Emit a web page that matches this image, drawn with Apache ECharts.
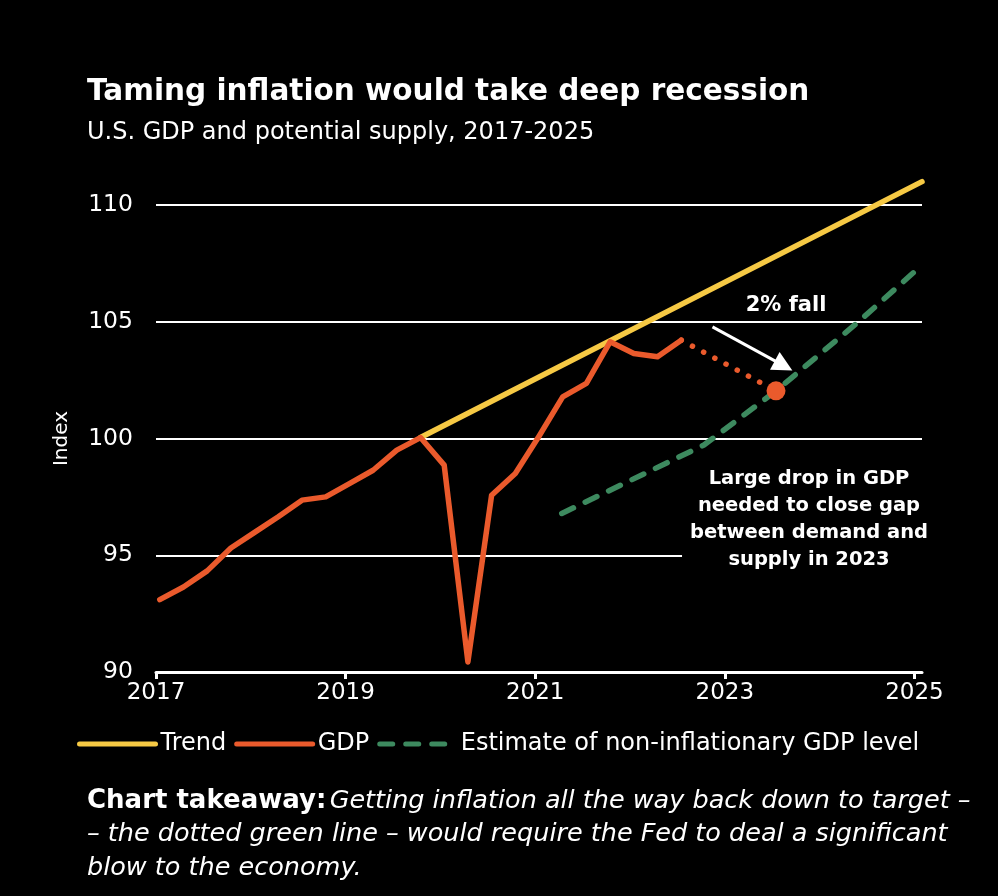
<!DOCTYPE html>
<html>
<head>
<meta charset="utf-8">
<script src="https://cdn.jsdelivr.net/npm/echarts@6/dist/echarts.min.js"></script>
<style>
  html, body { margin: 0; padding: 0; background: #000; }
  #chart { width: 998px; height: 896px; }
</style>
</head>
<body>
<div id="chart"></div>
<script>
// quarterly GDP index (decimal years)
const gdpYears = [2017.04, 2017.29, 2017.54, 2017.79, 2018.04, 2018.29, 2018.54, 2018.79,
  2019.04, 2019.29, 2019.54, 2019.79, 2020.04, 2020.29, 2020.54, 2020.79,
  2021.04, 2021.29, 2021.54, 2021.79, 2022.04, 2022.29, 2022.54];
const gdpValues = [93.1, 93.64, 94.33, 95.31, 95.98, 96.65, 97.36, 97.5,
  98.07, 98.64, 99.5, 100.04, 98.86, 90.43, 97.57, 98.5,
  100.1, 101.78, 102.36, 104.14, 103.64, 103.5, 104.21];

const trendYears = [2019.79, 2025.08];
const trendValues = [100.04, 111.0];

const estimateYears = [2021.28, 2022.78, 2023.54, 2024.41, 2025.08];
const estimateValues = [96.79, 99.72, 102.04, 105.0, 107.43];

// projected fall of GDP to the estimate in 2023
const dropYears = [2022.54, 2023.54];
const dropValues = [104.21, 102.04];

const arrowFrom = [2022.87, 104.78];
const arrowTo = [2023.62, 103.12];

const xTicks = [2017, 2019, 2021, 2023, 2025];

const pairs = (xs, ys) => xs.map((x, i) => [x, ys[i]]);

const YELLOW = '#f6c944';
const ORANGE = '#ea5a2c';
const GREEN = '#3d8a5f';
const FONT = '"DejaVu Sans", sans-serif';

const chart = echarts.init(document.getElementById('chart'));

const option = {
  backgroundColor: '#000',
  animation: false,
  textStyle: { fontFamily: FONT, color: '#fff' },
  grid: { left: 156, right: 76, top: 205, bottom: 224, containLabel: false },
  legend: {
    left: 72,
    top: 727,
    itemWidth: 76,
    itemHeight: 14,
    itemGap: 8,
    data: ['Trend', 'GDP', 'Estimate of non-inflationary GDP level'],
    itemStyle: { opacity: 0 },
    lineStyle: { width: 5, cap: 'round' },
    textStyle: { color: '#fff', fontSize: 24, fontFamily: FONT }
  },
  xAxis: {
    type: 'value',
    min: 2017,
    max: 2025.08,
    axisLine: { show: true, lineStyle: { color: '#fff', width: 3 } },
    axisTick: {
      show: true, length: 7, lineStyle: { color: '#fff', width: 3 },
      customValues: xTicks
    },
    axisLabel: {
      color: '#fff', fontSize: 23, margin: 10, fontFamily: FONT,
      customValues: xTicks,
      formatter: v => String(v)
    },
    splitLine: { show: false }
  },
  yAxis: {
    type: 'value',
    min: 90,
    max: 110,
    interval: 5,
    name: 'Index',
    nameLocation: 'middle',
    nameGap: 84,
    nameTextStyle: { color: '#fff', fontSize: 20, fontFamily: FONT },
    axisLine: { show: false },
    axisTick: { show: false },
    axisLabel: { color: '#fff', fontSize: 23.5, margin: 23, fontFamily: FONT },
    splitLine: { show: true, lineStyle: { color: '#fff', width: 2 } }
  },
  series: [
    {
      name: 'Trend',
      type: 'line',
      data: pairs(trendYears, trendValues),
      symbol: 'none',
      clip: false,
      color: YELLOW,
      lineStyle: { color: YELLOW, width: 5.5, cap: 'round' },
      z: 2
    },
    {
      name: 'GDP',
      type: 'line',
      data: pairs(gdpYears, gdpValues),
      symbol: 'none',
      color: ORANGE,
      lineStyle: { color: ORANGE, width: 5.5, cap: 'round', join: 'round' },
      z: 3
    },
    {
      name: 'Estimate of non-inflationary GDP level',
      type: 'line',
      data: pairs(estimateYears, estimateValues),
      symbol: 'none',
      clip: false,
      color: GREEN,
      lineStyle: { color: GREEN, width: 5.5, type: [13, 13], cap: 'round' },
      z: 3
    },
    {
      name: 'drop',
      type: 'line',
      data: pairs(dropYears, dropValues),
      symbol: 'none',
      lineStyle: { color: ORANGE, width: 5.5, type: [0.1, 12.6], cap: 'round' },
      z: 4,
      markLine: {
        silent: true,
        symbol: ['none', 'triangle'],
        symbolSize: [20, 20],
        label: { show: false },
        lineStyle: { color: '#fff', width: 3, type: 'solid' },
        data: [[{ coord: arrowFrom }, { coord: arrowTo }]]
      }
    },
    {
      name: 'drop point',
      type: 'scatter',
      data: [[dropYears[1], dropValues[1]]],
      symbolSize: 19,
      itemStyle: { color: ORANGE, opacity: 1 },
      z: 5
    }
  ],
  graphic: [
    {
      type: 'text', left: 87, top: 77,
      style: { text: 'Taming inflation would take deep recession', fill: '#fff',
        font: 'bold 29.5px ' + FONT }
    },
    {
      type: 'text', left: 87, top: 121,
      style: { text: 'U.S. GDP and potential supply, 2017-2025', fill: '#fff',
        font: '24px ' + FONT }
    },
    {
      type: 'text', x: 786, y: 306,
      style: { text: '2% fall', fill: '#fff', font: 'bold 21px ' + FONT,
        align: 'center', verticalAlign: 'middle' }
    },
    {
      type: 'text', x: 809, y: 519, z: 10,
      style: {
        text: 'Large drop in GDP\nneeded to close gap\nbetween demand and\nsupply in 2023',
        fill: '#fff', font: 'bold 19.5px ' + FONT, lineHeight: 27,
        align: 'center', verticalAlign: 'middle',
        backgroundColor: '#000', padding: [4, 8, 4, 8]
      }
    },
    {
      type: 'text', left: 87, top: 788,
      style: {
        text: '{b|Chart takeaway:} {i|Getting inflation all the way back down to target –}\n' +
          '{i|– the dotted green line – would require the Fed to deal a significant}\n' +
          '{i|blow to the economy.}',
        fill: '#fff',
        rich: {
          b: { font: 'bold 26px ' + FONT, fill: '#fff', lineHeight: 33.5 },
          i: { font: 'italic 25.5px ' + FONT, fill: '#fff', lineHeight: 33.5 }
        }
      }
    }
  ]
};

chart.setOption(option);
window.addEventListener('resize', function () {
  chart.resize();
});
</script>
</body>
</html>
